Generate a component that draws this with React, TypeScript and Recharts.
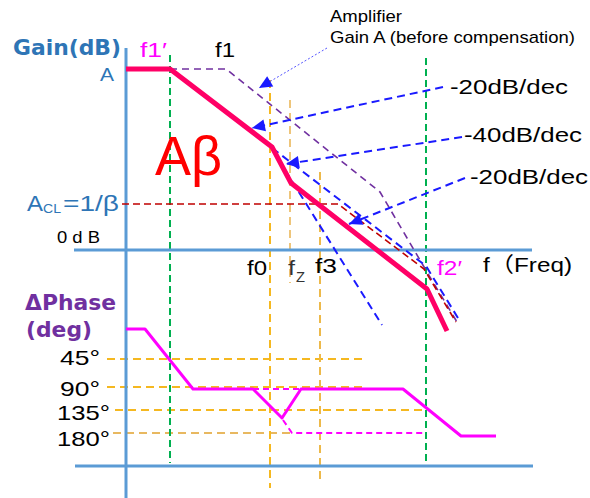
import React from 'react';
import { ComposedChart, Line, XAxis, YAxis, ReferenceDot } from 'recharts';

type P = { x: number; y: number };

// Axes (schematic coordinate space: x = frequency position, y = level, downward)
const gainAxisV: P[] = [{ x: 126, y: 48 }, { x: 126, y: 498 }];
const gainAxisH: P[] = [{ x: 74, y: 250 }, { x: 532, y: 250 }];
const phaseAxisH: P[] = [{ x: 75, y: 466 }, { x: 533, y: 466 }];

// Frequency markers
const f1pMarker: P[] = [{ x: 170, y: 55 }, { x: 170, y: 463 }];
const f2pMarker: P[] = [{ x: 426, y: 58 }, { x: 426, y: 466 }];
const f0Marker: P[] = [{ x: 270, y: 80 }, { x: 270, y: 488 }];
const fzMarker: P[] = [{ x: 290, y: 100 }, { x: 290, y: 283 }];
const f3Marker: P[] = [{ x: 320, y: 172 }, { x: 320, y: 480 }];

// Phase grid levels
const phase45: P[] = [{ x: 107, y: 359 }, { x: 365, y: 359 }];
const phase90: P[] = [{ x: 107, y: 387 }, { x: 365, y: 387 }];
const phase135: P[] = [{ x: 115, y: 410 }, { x: 427, y: 410 }];
const phase180: P[] = [{ x: 113, y: 433 }, { x: 290, y: 433 }];

// Gain curves
const loopGain: P[] = [
  { x: 126, y: 69 }, { x: 170, y: 69 }, { x: 272, y: 147 },
  { x: 291, y: 183 }, { x: 427, y: 289 }, { x: 447, y: 331 },
];
const ampGain: P[] = [
  { x: 170, y: 69 }, { x: 226, y: 69 }, { x: 380, y: 192 },
  { x: 427, y: 272 }, { x: 457, y: 322 },
];
const closedLoop: P[] = [
  { x: 122, y: 204 }, { x: 338, y: 204 }, { x: 424, y: 269 }, { x: 456, y: 322 },
];
const asym20: P[] = [{ x: 272, y: 148 }, { x: 426, y: 266 }, { x: 458, y: 318 }];
const asym40: P[] = [{ x: 285, y: 170 }, { x: 382, y: 325 }];

// Callout arrows
const arrowTop20: P[] = [{ x: 443, y: 87 }, { x: 252, y: 128 }];
const arrow40: P[] = [{ x: 462, y: 137 }, { x: 286, y: 164 }];
const arrowBot20: P[] = [{ x: 465, y: 178 }, { x: 349, y: 224 }];
const arrowAmp: P[] = [{ x: 327, y: 48 }, { x: 259, y: 88 }];

// Phase curves
const phaseComp: P[] = [
  { x: 126, y: 329 }, { x: 145, y: 329 }, { x: 193, y: 389 }, { x: 253, y: 389 },
  { x: 282, y: 418 }, { x: 301, y: 389 }, { x: 403, y: 389 }, { x: 461, y: 436 },
  { x: 496, y: 436 },
];
const phaseUncomp90: P[] = [{ x: 253, y: 389 }, { x: 302, y: 389 }];
const phaseUncomp180: P[] = [{ x: 283, y: 420 }, { x: 292, y: 433 }, { x: 423, y: 433 }];

const SANS = 'Liberation Sans, Arial, sans-serif';
const BOLD = 'DejaVu Sans, sans-serif';

function seg(key: string, data: P[], stroke: string, width: number, dash?: string) {
  return (
    <Line
      key={key}
      name={key}
      data={data}
      dataKey="y"
      type="linear"
      stroke={stroke}
      strokeWidth={width}
      strokeDasharray={dash}
      strokeLinejoin="round"
      dot={false}
      activeDot={false}
      isAnimationActive={false}
    />
  );
}

function arrowHead(key: string, line: P[], color: string, len = 13, half = 6) {
  const from = line[0];
  const to = line[line.length - 1];
  const ang = Math.atan2(to.y - from.y, to.x - from.x);
  return (
    <ReferenceDot
      key={key}
      x={to.x}
      y={to.y}
      r={0}
      isFront
      shape={(p: any) => {
        const cx = p.cx, cy = p.cy;
        const bx = cx - len * Math.cos(ang), by = cy - len * Math.sin(ang);
        const nx = -Math.sin(ang) * half, ny = Math.cos(ang) * half;
        return (
          <polygon
            points={`${cx},${cy} ${bx + nx},${by + ny} ${bx - nx},${by - ny}`}
            fill={color}
          />
        );
      }}
    />
  );
}

function txt(
  key: string, x: number, y: number, text: string, size: number, width: number,
  color = '#000', family = SANS, weight: any = 'normal'
) {
  return (
    <ReferenceDot
      key={key}
      x={x}
      y={y}
      r={0}
      isFront
      shape={(p: any) => (
        <text
          x={p.cx}
          y={p.cy}
          fontSize={size}
          fontFamily={family}
          fontWeight={weight}
          fill={color}
          textLength={width}
          lengthAdjust="spacingAndGlyphs"
        >
          {text}
        </text>
      )}
    />
  );
}

export default function App() {
  const axisBlue = '#5B9BD5';
  const orange = '#F5B820';
  const green = '#00B050';
  const blue = '#1A1AFF';
  const labelBlue = '#2E75B6';
  return (
    <div style={{ position: 'absolute', left: 0, top: 0, width: 590, height: 498, background: '#fff' }}>
      <ComposedChart width={590} height={498} margin={{ top: 0, right: 0, bottom: 0, left: 0 }}>
        <XAxis dataKey="x" type="number" domain={[0, 590]} allowDataOverflow hide />
        <YAxis type="number" domain={[0, 498]} reversed allowDataOverflow hide />

        {seg('p45', phase45, orange, 2, '8 5')}
        {seg('p90', phase90, orange, 2, '8 5')}
        {seg('p135', phase135, orange, 2, '8 5')}
        {seg('p180', phase180, '#E8B860', 2, '8 5')}
        {seg('f0m', f0Marker, orange, 2, '8 5')}
        {seg('fzm', fzMarker, '#EEC57A', 2, '8 5')}
        {seg('f3m', f3Marker, '#EDB94A', 2, '8 5')}
        {seg('f1pm', f1pMarker, green, 2, '7 4')}
        {seg('f2pm', f2pMarker, green, 2, '7 4')}

        {seg('gainAxisV', gainAxisV, axisBlue, 3)}
        {seg('gainAxisH', gainAxisH, axisBlue, 3)}
        {seg('phaseAxisH', phaseAxisH, axisBlue, 3)}

        {seg('amp', ampGain, '#7030A0', 1.6, '7 5')}
        {seg('asym40', asym40, blue, 2, '8 5')}
        {seg('asym20', asym20, blue, 2, '8 5')}
        {seg('closed', closedLoop, '#C00000', 1.6, '7 4')}
        {seg('arrTop', arrowTop20, blue, 2, '8 5')}
        {seg('arr40', arrow40, blue, 2, '8 5')}
        {seg('arrBot', arrowBot20, blue, 2, '8 5')}
        {seg('arrAmp', arrowAmp, '#5555FF', 1, '2 2')}

        {seg('unc90', phaseUncomp90, '#FF00FF', 2, '6 4')}
        {seg('unc180', phaseUncomp180, '#FF00FF', 2, '6 4')}
        {seg('phase', phaseComp, '#FF00FF', 3)}
        {seg('loop', loopGain, '#FF0066', 5)}

        {arrowHead('ah1', arrowTop20, blue)}
        {arrowHead('ah2', arrow40, blue)}
        {arrowHead('ah3', arrowBot20, blue)}
        {arrowHead('ah4', arrowAmp, blue)}

        {txt('gain', 13, 55, 'Gain(dB)', 22, 108, labelBlue, BOLD, 'bold')}
        {txt('A', 100, 81, 'A', 19, 14, labelBlue)}
        {txt('acl1', 27, 211, 'A', 22, 16, labelBlue)}
        {txt('acl2', 43, 213, 'CL', 13, 18, labelBlue)}
        {txt('acl3', 63, 211, '=1/β', 22, 56, labelBlue)}
        {txt('zero', 57, 243, '0 d B', 17, 43)}
        {txt('f1p', 140, 57, 'f1′', 21, 27, '#FF00FF')}
        {txt('f1', 215, 57, 'f1', 21, 20)}
        {txt('ab', 155, 175, 'Aβ', 56, 67, '#FF0000')}
        {txt('amp1', 330, 22, 'Amplifier', 17, 72)}
        {txt('amp2', 330, 43, 'Gain A (before compensation)', 17, 245)}
        {txt('s1', 450, 94, '-20dB/dec', 21, 118)}
        {txt('s2', 464, 142, '-40dB/dec', 21, 118)}
        {txt('s3', 470, 184, '-20dB/dec', 21, 118)}
        {txt('f0', 247, 275, 'f0', 21, 20)}
        {txt('fz1', 288, 275, 'f', 21, 7, '#333')}
        {txt('fz2', 296, 282, 'Z', 14, 9, '#333')}
        {txt('f3', 315, 273, 'f3', 21, 22)}
        {txt('f2p', 437, 275, 'f2′', 21, 25, '#FF00FF')}
        {txt('freq', 483, 272, 'f（Freq)', 21, 89, '#000', 'Liberation Sans, Noto Sans CJK JP, sans-serif')}
        {txt('ph1', 25, 310, 'ΔPhase', 21, 91, '#7030A0', BOLD, 'bold')}
        {txt('ph2', 26, 337, '(deg)', 21, 66, '#7030A0', BOLD, 'bold')}
        {txt('d45', 60, 365, '45°', 21, 40)}
        {txt('d90', 60, 396, '90°', 21, 40)}
        {txt('d135', 57, 420, '135°', 21, 53)}
        {txt('d180', 57, 446, '180°', 21, 53)}
      </ComposedChart>
    </div>
  );
}
